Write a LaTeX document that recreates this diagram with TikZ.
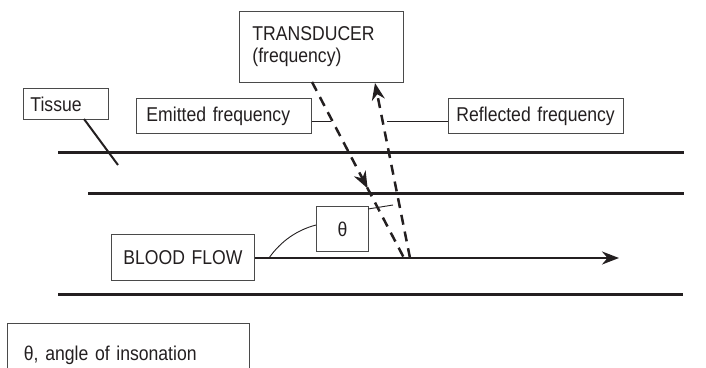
\documentclass[tikz,border=0pt]{standalone}
\usepackage{fontspec}
\setmainfont{Liberation Sans}[FakeStretch=0.88]
\usetikzlibrary{arrows.meta,decorations.markings}
\definecolor{ink}{HTML}{231F20}
\definecolor{boxline}{HTML}{4A4A4A}
\tikzset{
  lbl/.style={draw=boxline, line width=0.9pt, text=ink, font=\fontsize{20}{22}\selectfont, anchor=north west, inner ysep=0pt},
  layer/.style={draw=ink, line width=3pt},
  beam/.style={draw=ink, line width=2.5pt, dash pattern=on 10pt off 7pt},
  leader/.style={draw=ink, line width=0.9pt}
}
\begin{document}
\begin{tikzpicture}[x=1pt,y=-1pt, >={Stealth[length=17pt,width=13pt]}]
\useasboundingbox (0,0) rectangle (706,367);
\clip (0,0) rectangle (706,367);
% tissue layers
\coordinate (l1a) at (58,152); \coordinate (l1b) at (684,152);
\coordinate (l2a) at (88,193); \coordinate (l2b) at (684,193);
\coordinate (l3a) at (58,294); \coordinate (l3b) at (683,294);
\draw[layer] (l1a) -- (l1b);
\draw[layer] (l2a) -- (l2b);
\draw[layer] (l3a) -- (l3b);
% boxes
\node[lbl, minimum width=164pt, minimum height=71pt, text width=138pt, inner xsep=13pt, align=left] (trans) at (239,11) {TRANSDUCER\\(frequency)};
\node[lbl, minimum width=85pt, minimum height=31pt, text width=71pt, inner xsep=7pt, align=left] (tissue) at (23,88) {Tissue};
\node[lbl, minimum width=175pt, minimum height=35pt, text width=155pt, inner xsep=10pt, align=left] (emit) at (136,98) {Emitted frequency};
\node[lbl, minimum width=175pt, minimum height=35pt, text width=159pt, inner xsep=8pt, align=left] (refl) at (448,98) {Reflected frequency};
\node[lbl, minimum width=143pt, minimum height=46pt, text width=143pt, inner xsep=0pt, align=center] (blood) at (111,234) {BLOOD FLOW};
\node[lbl, minimum width=52pt, minimum height=45pt, text width=52pt, inner xsep=0pt, align=center] (theta) at (316,206) {θ};
\node[lbl, minimum width=242pt, minimum height=60pt, text width=231pt, inner xsep=0pt, align=left, text depth=0pt] (legend) at (7,323) {\hspace*{11pt}θ, angle of insonation};
% tissue leader
\coordinate (tisEnd) at (118,165);
\draw[draw=ink, line width=2pt] (84,119) -- (tisEnd);
% beams
\coordinate (eTop) at (312,82); \coordinate (eBot) at (404,258);
\coordinate (rBot) at (410,258); \coordinate (rTop) at (375,83);
\draw[beam, postaction={decorate}, decoration={markings, mark=at position 0.605 with {\arrow[ink]{>}}}] (eTop) -- (eBot);
\draw[beam, ->] (rBot) -- (rTop);
% leaders
\coordinate (emitEnd) at (331,121);
\coordinate (reflEnd) at (387,121);
\coordinate (thetaEnd) at (393,205);
\draw[leader] (emit.east |- emitEnd) -- (emitEnd);
\draw[leader] (refl.west |- reflEnd) -- (reflEnd);
\draw[leader] (368,209) -- (thetaEnd);
% blood flow arrow
\coordinate (flowEnd) at (619,258);
\draw[draw=ink, line width=2.3pt, ->] (blood.east |- flowEnd) -- (flowEnd);
\coordinate (arcStart) at (269,258);
\draw[leader] (arcStart) .. controls (281,241) and (297,230) .. (theta.west |- 0,225);
\end{tikzpicture}
\end{document}
